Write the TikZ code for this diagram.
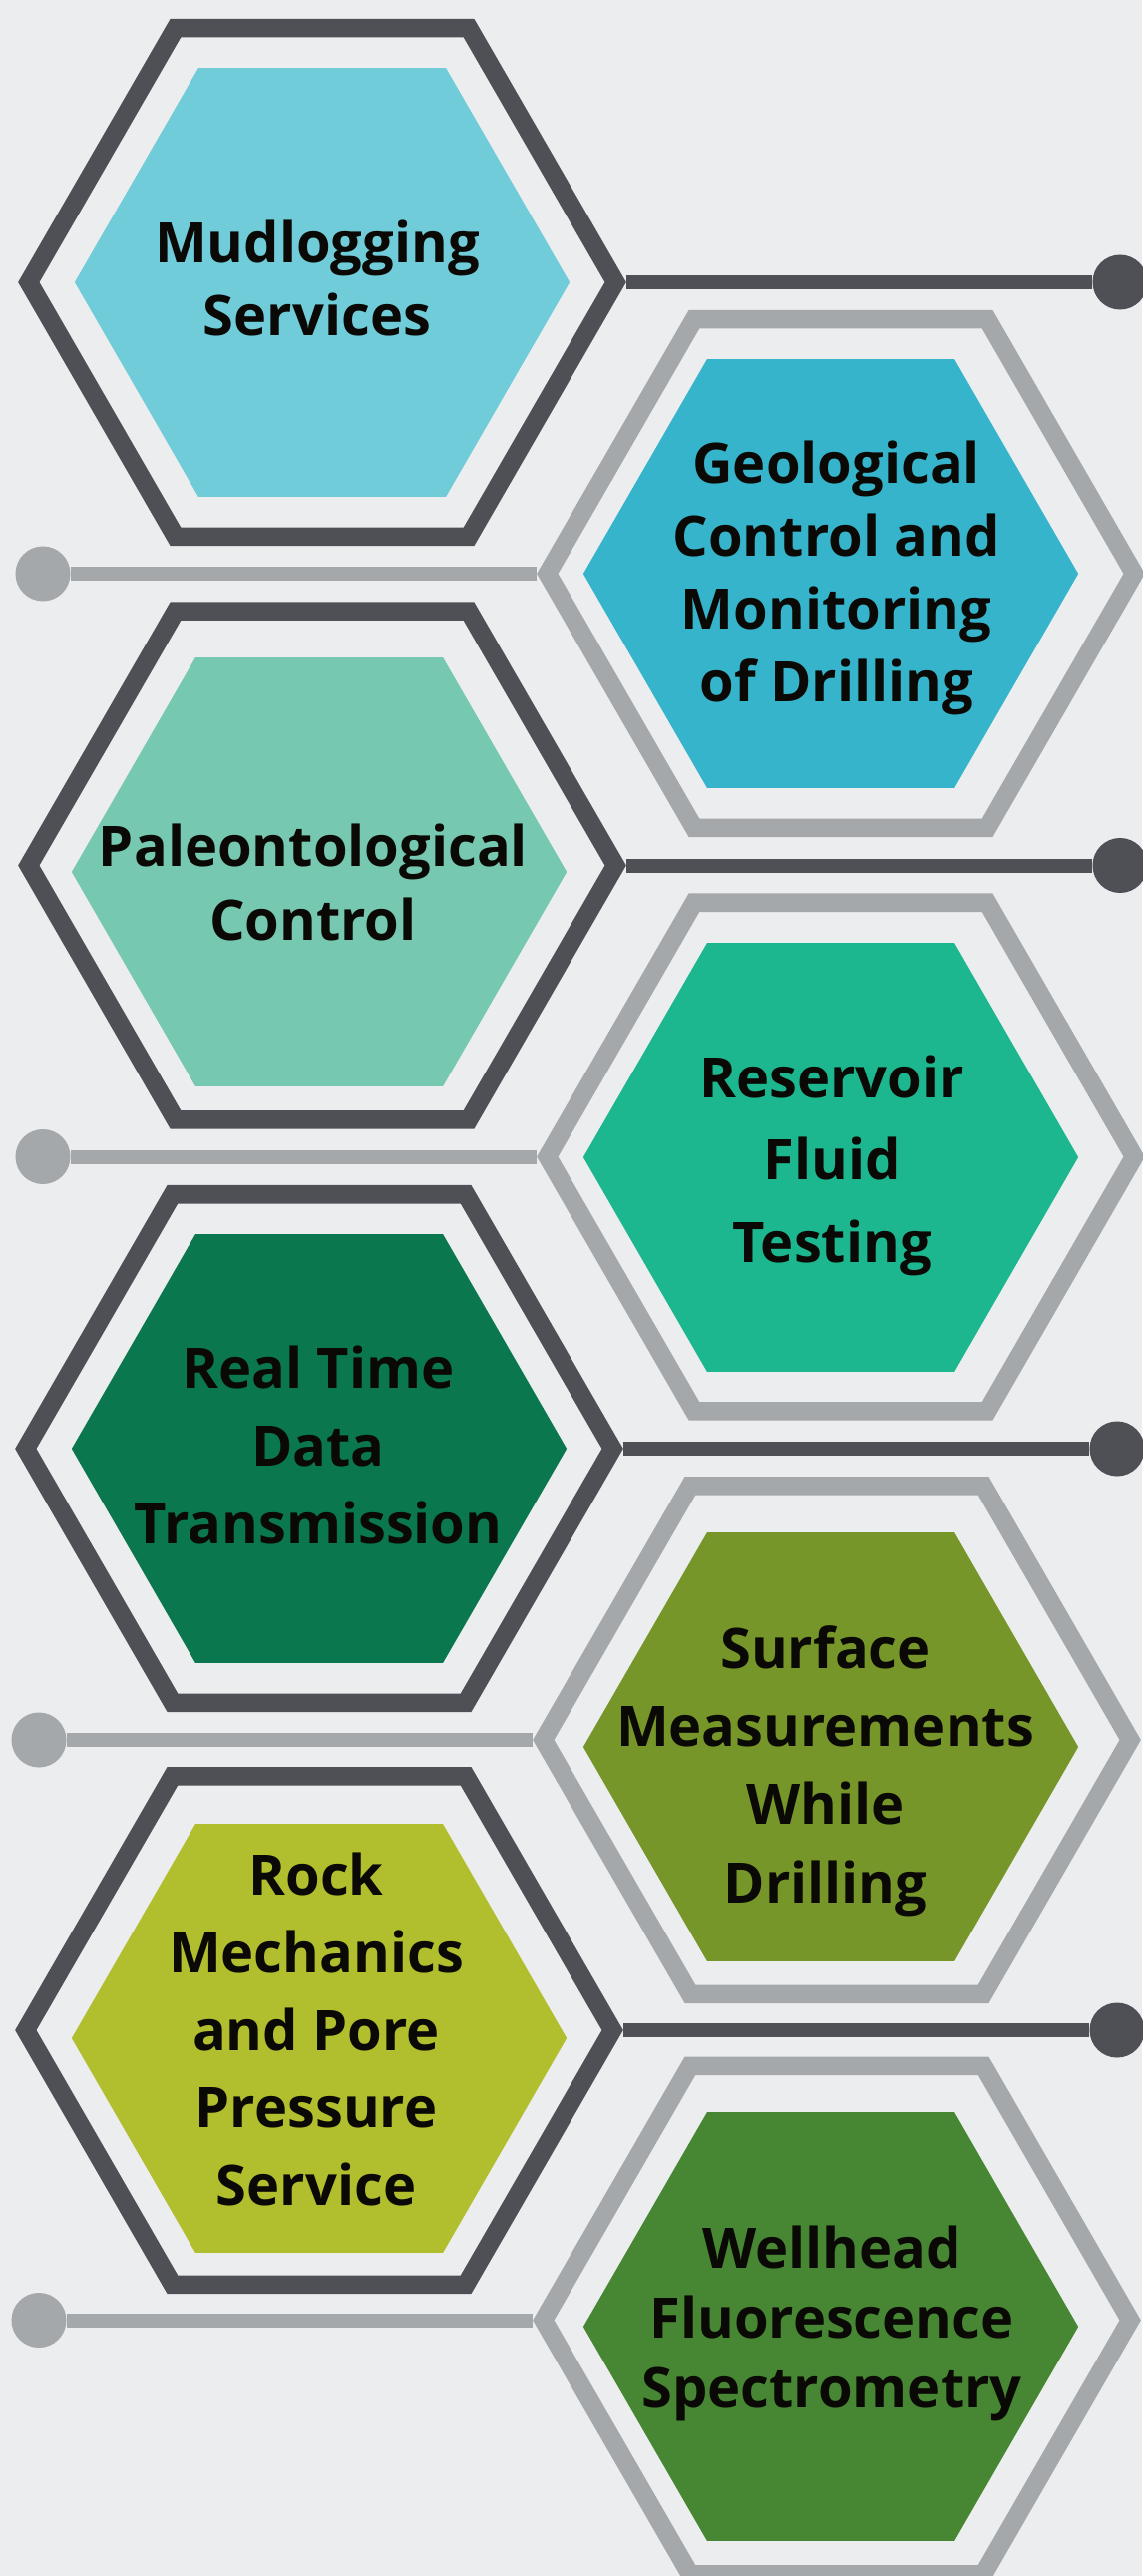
\documentclass[tikz,border=0pt]{standalone}
\usepackage{fontspec}
\setmainfont{Open Sans}
\usepackage{xcolor}
\usetikzlibrary{shapes.geometric}
\definecolor{bggrey}{HTML}{ECEDEE}
\definecolor{hexdark}{HTML}{4F5055}
\definecolor{hexlight}{HTML}{A5A8AA}
\definecolor{inkblack}{HTML}{0A0905}
\definecolor{mudblue}{HTML}{71CCD9}
\definecolor{geoblue}{HTML}{36B4CB}
\definecolor{paleogreen}{HTML}{76C8B0}
\definecolor{resgreen}{HTML}{1CB78F}
\definecolor{realgreen}{HTML}{0B774F}
\definecolor{surfgreen}{HTML}{77962A}
\definecolor{rockgreen}{HTML}{B1BE2D}
\definecolor{wellgreen}{HTML}{478733}

\tikzset{
  hexring/.style={regular polygon, regular polygon sides=6,
    minimum size=5.88cm, inner sep=0pt, line width=0.185cm},
  hexfill/.style={regular polygon, regular polygon sides=6,
    minimum size=4.96cm, inner sep=0pt},
  knob/.style={circle, minimum size=0.55cm, inner sep=0pt},
  link/.style={line width=0.14cm},
  hextext/.style={align=center, text=inkblack, anchor=base, inner sep=0pt},
}

\begin{document}
\begin{tikzpicture}[x=0.01cm, y=-0.01cm]
\fill[bggrey] (0,0) rectangle (1145,2582);
\useasboundingbox (0,0) rectangle (1145,2582);

% Left column: dark rings, links to the right
\foreach \i/\ox/\oy/\fx/\fy/\tx/\ty/\ls/\hexcol/\txt in {
    1/323/283/323/283/318/336.7/0.73cm/mudblue/{Mudlogging\\Services},
    2/323/867.5/320/874/314/942.6/0.74cm/paleogreen/{Paleontological\\Control},
    3/320/1452/320/1452/319/1547.9/0.78cm/realgreen/{Real Time\\Data\\Transmission},
    4/320/2035/320/2043/317/2210.6/0.777cm/rockgreen/{Rock\\Mechanics\\and Pore\\Pressure\\Service}} {
    \node[knob, fill=hexdark] (dknob\i) at (\ox+800,\oy) {};
    \node[hexring, draw=hexdark] (lring\i) at (\ox,\oy) {};
    \draw[link, hexdark] (lring\i.east) -- (dknob\i);
    \node[hexfill, fill=\hexcol] (lhex\i) at (\fx,\fy) {};
    \node[hextext, font=\bfseries\fontsize{0.56cm}{\ls}\selectfont] (ltext\i) at (\tx,\ty) {\txt};
}

% Right column: light rings, links to the left
\foreach \i/\ox/\oy/\fx/\fy/\tx/\ty/\ls/\hexcol/\txt in {
    1/843/575/833/575/838.7/703.3/0.728cm/geoblue/{Geological\\Control and\\Monitoring\\of Drilling},
    2/843/1159.5/833/1160/834/1265.1/0.825cm/resgreen/{Reservoir\\Fluid\\Testing},
    3/839/1744/833/1751/827.5/1907.1/0.782cm/surfgreen/{Surface\\Measurements\\While\\Drilling},
    4/839/2325.5/833/2332/834/2413.9/0.70cm/wellgreen/{Wellhead\\Fluorescence\\Spectrometry}} {
    \node[knob, fill=hexlight] (gknob\i) at (\ox-800,\oy) {};
    \node[hexring, draw=hexlight] (rring\i) at (\ox,\oy) {};
    \draw[link, hexlight] (gknob\i) -- (rring\i.west);
    \node[hexfill, fill=\hexcol] (rhex\i) at (\fx,\fy) {};
    \node[hextext, font=\bfseries\fontsize{0.56cm}{\ls}\selectfont] (rtext\i) at (\tx,\ty) {\txt};
}
\end{tikzpicture}
\end{document}
